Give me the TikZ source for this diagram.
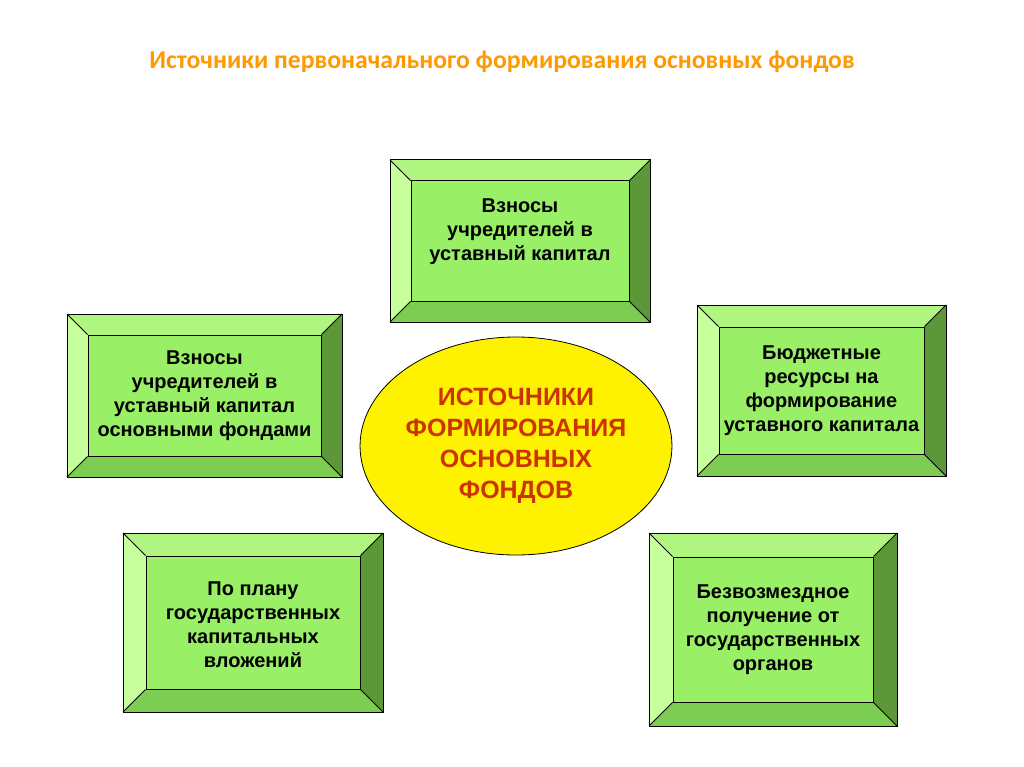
\documentclass[tikz,border=0pt]{standalone}
\usepackage{fontspec}
\setmainfont{Liberation Sans}
\newfontfamily\titlefont{Carlito}
\usetikzlibrary{shapes.geometric}
\definecolor{facegreen}{RGB}{153,240,102}
\definecolor{topgreen}{RGB}{175,245,128}
\definecolor{leftgreen}{RGB}{198,255,155}
\definecolor{botgreen}{RGB}{125,205,82}
\definecolor{rightgreen}{RGB}{92,152,56}
\definecolor{titleorange}{RGB}{255,153,0}
\definecolor{ovaltext}{RGB}{204,51,0}
\newcommand{\bevbox}[6]{%
\fill[topgreen] (#2,#3) -- (#4,#3) -- ({#4-#6},{#3+#6}) -- ({#2+#6},{#3+#6}) -- cycle;
\fill[leftgreen] (#2,#3) -- ({#2+#6},{#3+#6}) -- ({#2+#6},{#5-#6}) -- (#2,#5) -- cycle;
\fill[botgreen] (#2,#5) -- ({#2+#6},{#5-#6}) -- ({#4-#6},{#5-#6}) -- (#4,#5) -- cycle;
\fill[rightgreen] (#4,#3) -- (#4,#5) -- ({#4-#6},{#5-#6}) -- ({#4-#6},{#3+#6}) -- cycle;
\node[face,minimum width={(#4-#2-2*#6)*1pt},minimum height={(#5-#3-2*#6)*1pt}]
  at ({(#2+#4)/2},{(#3+#5)/2}) (#1) {};
\draw[edge] (#2,#3) rectangle (#4,#5);
\draw[edge] (#2,#3) -- (#1.north west);
\draw[edge] (#4,#3) -- (#1.north east);
\draw[edge] (#2,#5) -- (#1.south west);
\draw[edge] (#4,#5) -- (#1.south east);
}
\begin{document}
\begin{tikzpicture}
[x=1pt,y=-1pt,
face/.style={rectangle,draw=black,line width=1pt,fill=facegreen,inner sep=0pt},
edge/.style={black,line width=1pt},
boxtext/.style={align=center,font=\bfseries\fontsize{20}{24}\selectfont},
oval/.style={ellipse,draw=black,line width=0.8pt,fill=yellow,inner sep=0pt,minimum width=268pt,minimum height=218pt}]
\useasboundingbox (0,0) rectangle (1024,767);
\fill[white] (0,0) rectangle (1024,767);
\node[font=\titlefont\bfseries\fontsize{25.7}{30}\selectfont,text=titleorange] at (502,62) (title)
  {Источники первоначального формирования основных фондов};
\bevbox{founders}{390}{160}{650}{322}{21}
\node[boxtext] at (520,232) (founders-text) {Взносы\\учредителей в\\уставный капитал};
\bevbox{assets}{67}{314}{342}{477}{21}
\node[boxtext] at (assets.center) (assets-text) {Взносы\\учредителей в\\уставный капитал\\основными фондами};
\bevbox{budget}{697}{305}{946}{476}{22}
\node[boxtext] at (budget.center) (budget-text) {Бюджетные\\ресурсы на\\формирование\\уставного капитала};
\bevbox{plan}{123}{533}{383}{712}{23}
\node[boxtext] at ([yshift=-2pt]plan.center) (plan-text) {По плану\\государственных\\капитальных\\вложений};
\bevbox{grant}{649}{533}{897}{726}{24}
\node[boxtext] at (grant.center) (grant-text) {Безвозмездное\\получение от\\государственных\\органов};
\node[oval,align=center,text=ovaltext,font=\bfseries\fontsize{25}{31}\selectfont] at (516,446) (sources)
  {ИСТОЧНИКИ\\ФОРМИРОВАНИЯ\\ОСНОВНЫХ\\ФОНДОВ};
\end{tikzpicture}
\end{document}
